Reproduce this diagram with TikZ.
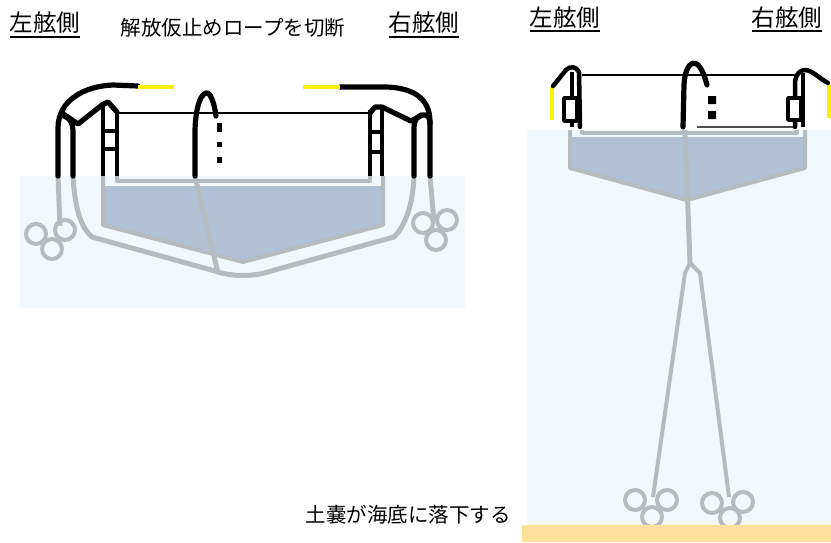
\documentclass[tikz,border=0pt]{standalone}
\usepackage{fontspec}
\setmainfont{Noto Sans CJK JP}
\begin{document}
\begin{tikzpicture}[x=1pt,y=-1pt,
  line join=round,
  rope/.style={line width=5.2pt,line cap=round},
  thinrope/.style={line width=2.2pt},
  under/.style={draw=grayrope,line width=5pt},
  yel/.style={draw=ropeyellow,line width=4.5pt},
  ring/.style={draw=grayrope,line width=4pt},
  ladder/.style={line width=4pt},
  head/.style={inner sep=0pt,font=\fontsize{23.5}{26}\selectfont},
  caption/.style={inner sep=0pt,font=\fontsize{20.5}{24}\selectfont}]
\definecolor{water}{HTML}{F2F9FC}
\definecolor{hullfill}{HTML}{B0C1D5}
\definecolor{grayrope}{HTML}{B5BBBE}
\definecolor{ropeyellow}{HTML}{FFEF00}
\definecolor{sand}{HTML}{FFE199}
\useasboundingbox (0,0) rectangle (831,542);
\fill[white] (0,0) rectangle (831,542);

% ---------------- left scene: bags still held at the sides ----------------
\fill[water] (20,176) rectangle (465,308);
\fill[hullfill] (103,186) -- (383,186) -- (383,225) -- (243,262) -- (103,225) -- cycle;
\draw[under,line width=4pt] (103,176) -- (103,225) -- (243,262) -- (383,225) -- (383,176);
\draw[under,line width=3.2pt] (117,176) -- (117,181) -- (370,181) -- (370,176);
% underwater ropes
\draw[under] (73,176) .. controls (75,212) and (82,228) .. (92,237) -- (215,271)
  .. controls (232,277) and (254,277) .. (271,271) -- (394,237)
  .. controls (405,226) and (413,205) .. (414,176);
\draw[under] (195,176) -- (218,273);
\draw[under] (58,176) -- (60,226);
\draw[under] (430,176) -- (434,222);
% sandbag clusters
\draw[ring] (36,234) circle (10) (65,230) circle (10) (52,249) circle (10);
\draw[ring] (423,223) circle (10) (447,220) circle (10) (436,240) circle (10);

% above-water frame
\draw[thinrope] (117,113) -- (372,113);
\draw[rope] (58,176) -- (58,128) .. controls (58,100) and (85,86) .. (113,85) -- (138,86);
\draw[yel] (138,87) -- (174,87);
\draw[rope] (73,176) -- (73,132) .. controls (73,123) and (70,118) .. (64,116);
\draw[rope] (62,113) -- (78,124) -- (102,105) -- (108,102) -- (117,112);
\draw[ladder] (103,176) -- (103,106) (117,176) -- (117,112)
  (103,131) -- (117,131) (103,149) -- (117,149);
\draw[rope] (195,176) -- (195,130) .. controls (196,98) and (205,88) .. (210,95)
  .. controls (213,100) and (215,108) .. (216,116);
\draw[line width=5pt] (219,123) -- (219,132) (219,142) -- (219,147) (219,157) -- (219,163);
\draw[rope] (430,176) -- (430,122) .. controls (430,96) and (410,88) .. (387,87) -- (340,87);
\draw[yel] (303,87) -- (340,87);
\draw[rope] (414,176) -- (414,128) .. controls (414,118) and (420,114) .. (425,115)
  .. controls (429,116) and (430,119) .. (430,124);
\draw[rope] (370,113) -- (375,107) -- (382,107) -- (411,121) -- (422,115);
\draw[ladder] (370,176) -- (370,110) (382,176) -- (382,108)
  (370,132) -- (382,132) (370,152) -- (382,152);

% ---------------- right scene: bags dropped to the seabed ----------------
\fill[water] (527,130) rectangle (831,525);
\fill[hullfill] (570,137) -- (805,137) -- (805,168) -- (687,200) -- (570,168) -- cycle;
\draw[under,line width=4pt] (570,130) -- (570,168) -- (687,200) -- (805,168) -- (805,130);
\draw[under,line width=3.2pt] (582,130) -- (582,133) -- (797,133) -- (797,130);
\draw[under] (685,130) -- (690,263);
\draw[under,line width=4pt] (690,263) -- (685,273) -- (653,497);
\draw[under,line width=4pt] (690,263) -- (700,273) -- (729,497);
\draw[ring] (635,500) circle (10) (667,500) circle (10) (652,517) circle (10);
\draw[ring] (712,503) circle (10) (743,502) circle (10) (730,518) circle (10);
\fill[sand] (522,525) rectangle (831,542);

\draw[thinrope] (582,75) -- (795,75);
\draw[line width=1.2pt,black!70] (697,127) -- (793,127);
\draw[yel,line width=3.5pt] (552,87) -- (552,120);
\draw[rope,line width=4.5pt] (553,86) -- (566,70) .. controls (570,66) and (576,66) .. (579,72) -- (580,127);
\draw[ladder] (572,72) -- (572,127);
\draw[line width=3.5pt,fill=white] (564,98) rectangle (577,121);
\draw[rope] (683,127) -- (684,85) .. controls (685,62) and (698,50) .. (707,85);
\fill (708,96) rectangle (716,104) (708,111) rectangle (716,119);
\draw[ladder] (803,127) -- (803,73);
\draw[rope,line width=4.5pt] (795,127) -- (795,82) .. controls (796,74) and (800,70) .. (805,70)
  .. controls (812,70) and (820,79) .. (828,83);
\draw[line width=3.5pt,fill=white] (788,98) rectangle (801,120);
\draw[yel,line width=3.5pt] (829,85) -- (829,118);

% ---------------- labels ----------------
\node[head] (portA) at (45,23) {左舷側};
\node[head] (stbdA) at (424,23) {右舷側};
\node[caption] (cut) at (233,28) {解放仮止めロープを切断};
\node[head] (portB) at (565,18) {左舷側};
\node[head] (stbdB) at (787,18) {右舷側};
\node[caption] (drop) at (408,515) {土嚢が海底に落下する};
\foreach \n in {portA,stbdA} \draw[line width=2pt] (\n.west |- 0,37) -- (\n.east |- 0,37);
\foreach \n in {portB,stbdB} \draw[line width=2pt] (\n.west |- 0,31) -- (\n.east |- 0,31);
\end{tikzpicture}
\end{document}
